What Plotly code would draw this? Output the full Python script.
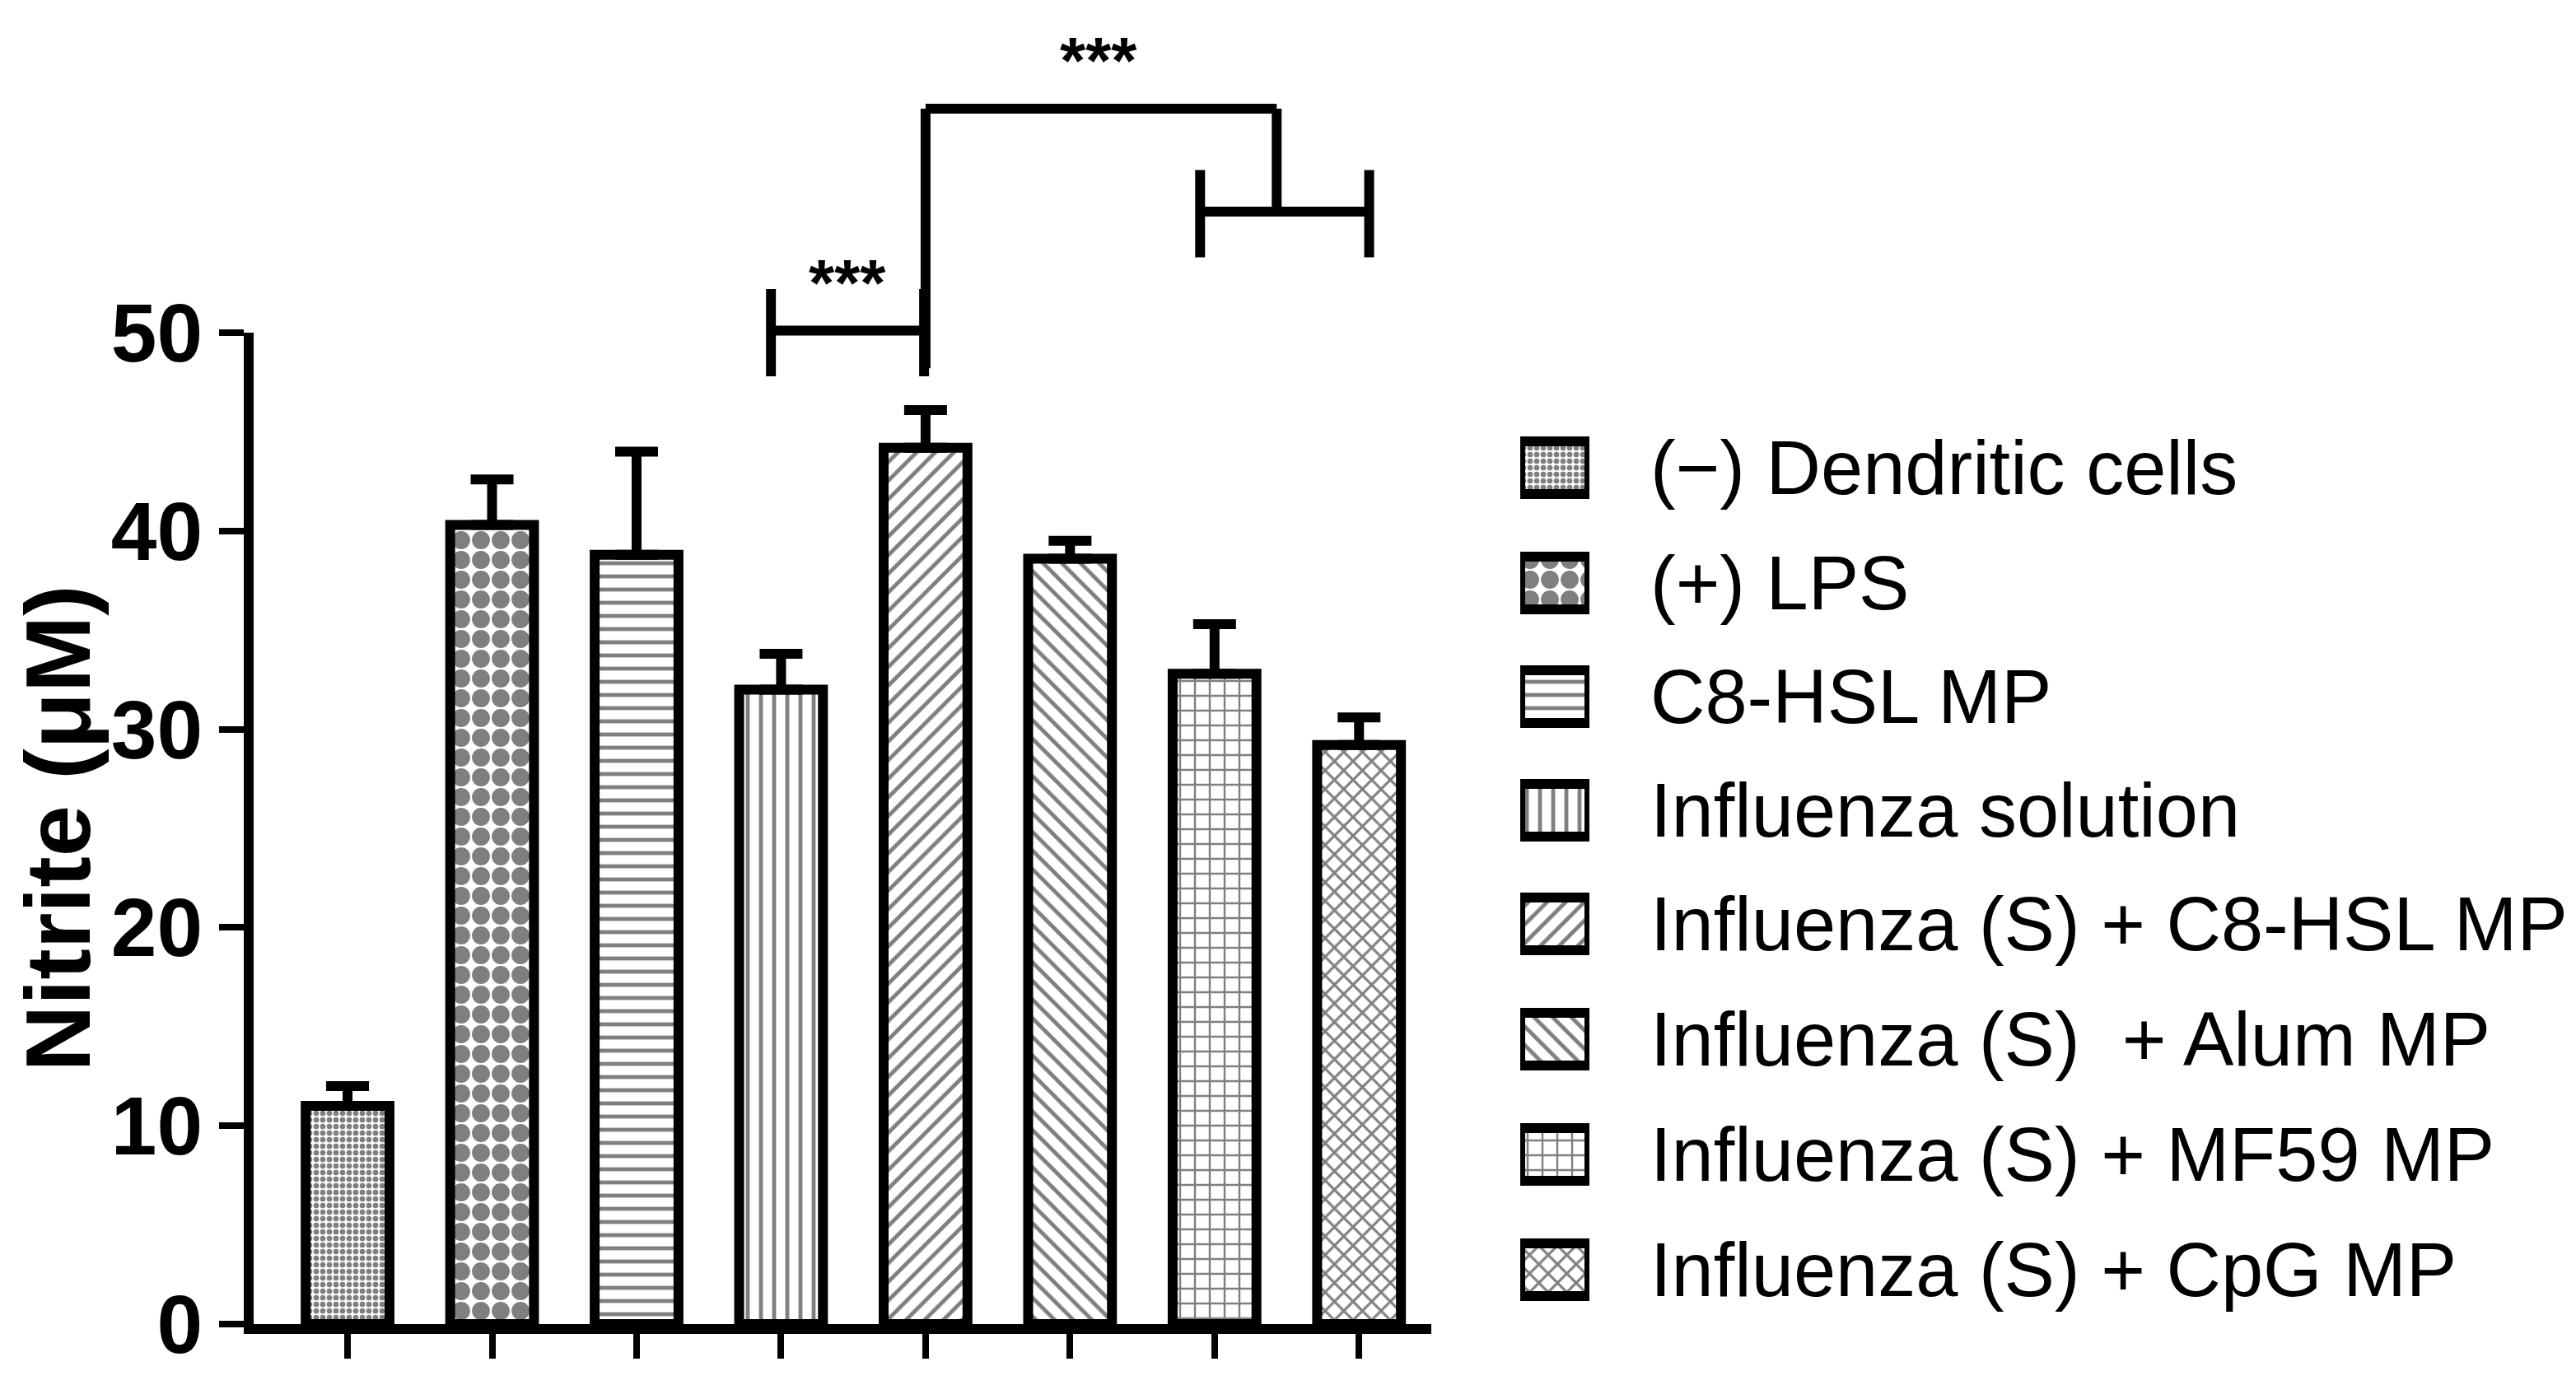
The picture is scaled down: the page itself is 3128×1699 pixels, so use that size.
import plotly.graph_objects as go

categories = ["(\u2212) Dendritic cells", "(+) LPS", "C8-HSL MP", "Influenza solution",
              "Influenza (S) + C8-HSL MP", "Influenza (S)  + Alum MP",
              "Influenza (S) + MF59 MP", "Influenza (S) + CpG MP"]
values = [11.0, 40.3, 38.8, 32.0, 44.2, 38.6, 32.8, 29.2]
errors = [1.0, 2.3, 5.2, 1.8, 1.9, 0.9, 2.5, 1.4]
patterns = [".", ".", "-", "|", "/", "\\", "+", "x"]
psizes = [8, 24, 16, 16, 16, 16, 18, 16]
psolid = [0.55, 0.65, 0.3, 0.3, 0.3, 0.3, 0.25, 0.35]
yticks = [0, 10, 20, 30, 40, 50]
legend_rows = [560, 700, 838, 976, 1114, 1254, 1394, 1534]

W, H, L, T, B = 3128, 1699, 300, 396, 99
PW = W - L
def px(xr):
    return (xr - L) / PW

FONT = "Liberation Sans"
LW = 12
fig = go.Figure()
for i, c in enumerate(categories):
    pat = dict(shape=patterns[i], size=psizes[i], solidity=psolid[i],
               fgcolor="black", bgcolor="white")
    fig.add_trace(go.Bar(
        x=[i], y=[values[i]], name=c, width=0.58, showlegend=False,
        marker=dict(color="white", line=dict(color="black", width=LW), pattern=pat),
        error_y=dict(type="data", array=[errors[i]], arrayminus=[0], symmetric=False,
                     color="black", thickness=LW, width=26)))
    # legend icon
    fig.add_trace(go.Bar(
        x=[1], y=[legend_rows[i]], base=0, orientation="h", width=64, showlegend=False,
        xaxis="x2", yaxis="y2", hoverinfo="skip",
        marker=dict(color="white", line=dict(color="black", width=LW), pattern=pat)))

shapes = []
def line(x0, y0, x1, y1):
    shapes.append(dict(type="line", xref="x", yref="paper", x0=x0, x1=x1,
                       y0=y0 / 50, y1=y1 / 50, line=dict(color="black", width=LW)))
line(2.93, 50.1, 3.99, 50.1); line(2.93, 47.8, 2.93, 52.2); line(3.99, 47.8, 3.99, 52.2)
line(4.0, 61.3, 6.43, 61.3); line(4.0, 48.2, 4.0, 61.3); line(6.43, 56.1, 6.43, 61.3)
line(5.9, 56.1, 7.07, 56.1); line(5.9, 53.8, 5.9, 58.2); line(7.07, 53.8, 7.07, 58.2)

annots = [
    dict(x=3.46, y=50.6 / 50, text="<b>***</b>", showarrow=False, xref="x", yref="paper",
         font=dict(size=80, color="black", family=FONT), yanchor="bottom"),
    dict(x=5.2, y=61.8 / 50, text="<b>***</b>", showarrow=False, xref="x", yref="paper",
         font=dict(size=80, color="black", family=FONT), yanchor="bottom"),
]
for i, c in enumerate(categories):
    annots.append(dict(x=px(1994), y=legend_rows[i], xref="paper", yref="y2", text=c,
                       showarrow=False, xanchor="left", yanchor="middle",
                       font=dict(size=92, family=FONT, color="black")))

fig.update_layout(
    width=W, height=H, plot_bgcolor="white", paper_bgcolor="white",
    margin=dict(l=L, r=0, t=T, b=B), barmode="overlay",
    showlegend=False, shapes=shapes, annotations=annots,
    xaxis=dict(domain=[0, px(1730)], range=[-0.65, 7.5], tickvals=list(range(8)),
               ticktext=[""] * 8, showline=True, linecolor="black", linewidth=LW,
               ticks="outside", ticklen=30, tickwidth=8, tickcolor="black",
               showgrid=False, zeroline=False),
    yaxis=dict(range=[0, 50], tickvals=yticks, showline=True, linecolor="black",
               linewidth=LW, ticks="outside", ticklen=30, tickwidth=8, tickcolor="black",
               showgrid=False, zeroline=False,
               tickfont=dict(size=100, family=FONT, color="black", weight="bold"),
               title=dict(text="<b>Nitrite (\u03bcM)</b>", standoff=30,
                          font=dict(size=112, family=FONT, color="black"))),
    xaxis2=dict(domain=[px(1838), px(1922)], range=[0, 1], visible=False, anchor="y2"),
    yaxis2=dict(domain=[0, 1], range=[H - B, T], visible=False, anchor="x2"),
)
fig.write_html("out.html")
